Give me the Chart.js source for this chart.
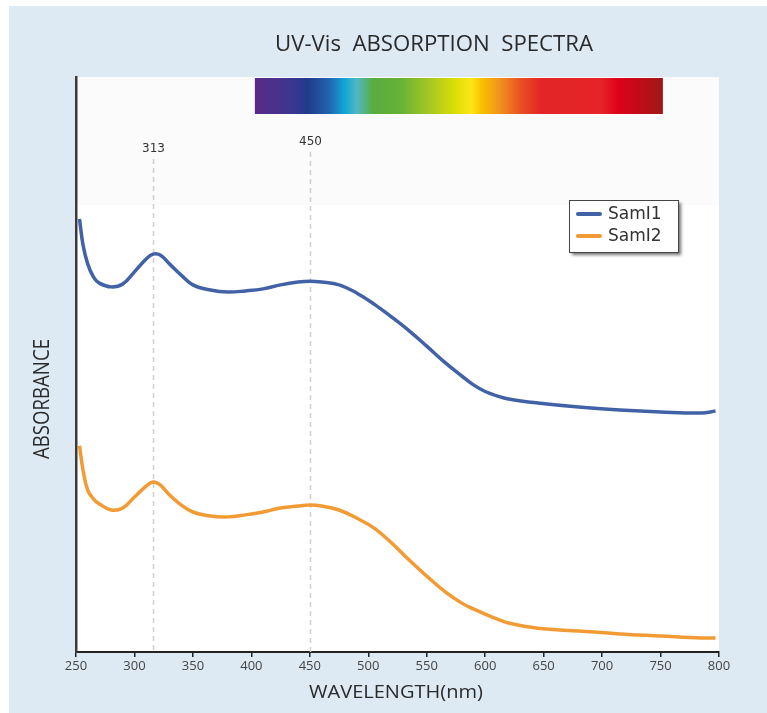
<!DOCTYPE html>
<html><head><meta charset="utf-8">
<script src="https://cdn.jsdelivr.net/npm/chart.js@4.4.1/dist/chart.umd.min.js"></script>
<style>
html,body{margin:0;padding:0;background:#fff;width:767px;height:713px;overflow:hidden;}
#frame{position:absolute;left:9px;top:6px;right:0;bottom:0;background:#ddeaf3;}
#wrap{position:absolute;left:0;top:0;width:767px;height:713px;}
</style></head><body>
<div id="frame"></div>
<div id="wrap"><canvas id="c" width="767" height="713"></canvas></div>
<script>
// ---- data ----
const wavelengths = [253,256,260,265,270,280,290,300,310,316,322,330,340,350,365,380,395,410,425,440,450,460,475,490,505,520,535,550,565,580,590,600,610,620,645,680,715,750,785,797];
const sample1 = [1.506,1.416,1.350,1.304,1.283,1.270,1.280,1.322,1.367,1.384,1.381,1.350,1.311,1.277,1.259,1.252,1.256,1.263,1.277,1.287,1.290,1.287,1.277,1.249,1.210,1.165,1.117,1.064,1.009,0.960,0.929,0.906,0.891,0.880,0.866,0.852,0.842,0.835,0.831,0.838];
const sample2 = [0.717,0.633,0.563,0.532,0.515,0.494,0.501,0.539,0.577,0.591,0.581,0.546,0.511,0.487,0.473,0.470,0.477,0.487,0.501,0.508,0.511,0.508,0.494,0.466,0.431,0.379,0.320,0.264,0.212,0.170,0.150,0.132,0.115,0.101,0.083,0.073,0.063,0.056,0.049,0.049];
const seriesNames = ['SamI1','SamI2'];
const xTicks = [250,300,350,400,450,500,550,600,650,700,750,800];
const markerWavelengths = [316,450];
const markerLabels = ['313','450'];
const markerTops = [1.715,1.739];
const spectrumRange = [403,752];
const titleText = 'UV-Vis  ABSORPTION  SPECTRA';
const xTitle = 'WAVELENGTH(nm)';
const yTitle = 'ABSORBANCE';

const colors = ['#4262a6','#f29b34'];
const FONT = '"Open Sans", "Noto Sans", sans-serif';

function fitText(ctx, text, x, y, targetW, font, color, rot){
  ctx.save();
  ctx.font = font; ctx.fillStyle = color;
  ctx.textAlign = 'center'; ctx.textBaseline = 'middle';
  const w = ctx.measureText(text).width;
  ctx.translate(x, y);
  if (rot) ctx.rotate(rot);
  ctx.scale(targetW / w, 1);
  ctx.fillText(text, 0, 0);
  ctx.restore();
}

const decor = {
  id: 'decor',
  beforeDraw(chart){
    const {ctx, chartArea:a} = chart;
    ctx.save();
    ctx.fillStyle = '#ffffff';
    ctx.fillRect(a.left, a.top, a.right - a.left, a.bottom - a.top);
    ctx.fillStyle = '#fbfbfb';
    ctx.fillRect(a.left, a.top, a.right - a.left, 128);
    ctx.restore();
  },
  beforeDatasetsDraw(chart){
    const {ctx, chartArea:a, scales:{x, y}} = chart;
    ctx.save();
    ctx.strokeStyle = '#cfcfcf'; ctx.lineWidth = 1.5; ctx.setLineDash([5,4]);
    markerWavelengths.forEach((w, i) => {
      const px = Math.round(x.getPixelForValue(w)) + 0.5;
      const top = y.getPixelForValue(markerTops[i]);
      ctx.beginPath(); ctx.moveTo(px, top); ctx.lineTo(px, a.bottom); ctx.stroke();
      ctx.save();
      ctx.setLineDash([]);
      ctx.font = '12px "DejaVu Sans", sans-serif'; ctx.fillStyle = '#333';
      ctx.textAlign = 'center'; ctx.textBaseline = 'middle';
      ctx.fillText(markerLabels[i], px, top - 10);
      ctx.restore();
    });
    ctx.restore();
  },
  afterDraw(chart){
    const {ctx, chartArea:a, scales:{x}} = chart;
    // spectrum bar
    const x0 = x.getPixelForValue(spectrumRange[0]);
    const x1 = x.getPixelForValue(spectrumRange[1]);
    const g = ctx.createLinearGradient(x0, 0, x1, 0);
    const stops = [[0,'#5a2a86'],[0.09,'#3c3690'],[0.13,'#1f3b8c'],[0.18,'#2462ae'],[0.22,'#10a6d6'],[0.25,'#50b8c6'],[0.29,'#58ac3e'],[0.36,'#68b236'],[0.43,'#a8c822'],[0.49,'#dade04'],[0.53,'#fde618'],[0.555,'#f9c200'],[0.6,'#f0921e'],[0.65,'#e85322'],[0.7,'#e42526'],[0.85,'#e42428'],[0.89,'#df0219'],[1,'#9e1818']];
    stops.forEach(s => g.addColorStop(s[0], s[1]));
    ctx.save();
    ctx.fillStyle = g;
    ctx.fillRect(x0, a.top + 1, x1 - x0, 36);
    ctx.restore();
    // titles
    fitText(ctx, titleText, 434, 45, 318, '21px ' + FONT, '#2a2a2a', 0);
    fitText(ctx, xTitle, 396, 693, 174, '19px ' + FONT, '#2a2a2a', 0);
    fitText(ctx, yTitle, 43, 399, 120, '22px ' + FONT, '#2a2a2a', -Math.PI/2);
    // legend
    const L = 569, T = 200, W = 109, H = 52;
    ctx.save();
    ctx.shadowColor = 'rgba(0,0,0,0.55)'; ctx.shadowOffsetX = 3; ctx.shadowOffsetY = 3; ctx.shadowBlur = 3;
    ctx.fillStyle = '#fff'; ctx.fillRect(L, T, W, H);
    ctx.restore();
    ctx.save();
    ctx.strokeStyle = '#444'; ctx.lineWidth = 1; ctx.strokeRect(L + 0.5, T + 0.5, W, H);
    chart.data.datasets.forEach((ds, i) => {
      const yy = T + 14 + i * 22;
      ctx.strokeStyle = ds.borderColor; ctx.lineWidth = 4; ctx.lineCap = 'round';
      ctx.beginPath(); ctx.moveTo(L + 9, yy); ctx.lineTo(L + 31, yy); ctx.stroke();
      ctx.font = '17px "DejaVu Sans", sans-serif'; ctx.fillStyle = '#333';
      ctx.textAlign = 'left'; ctx.textBaseline = 'middle';
      ctx.fillText(ds.label, L + 39, yy + 1);
    });
    ctx.restore();
  }
};

const toPts = arr => wavelengths.map((w, i) => ({x: w, y: arr[i]}));

new Chart(document.getElementById('c'), {
  type: 'line',
  data: {
    datasets: [
      {label: seriesNames[0], data: toPts(sample1), borderColor: colors[0], borderWidth: 3.5, pointRadius: 0, tension: 0.4, fill: false},
      {label: seriesNames[1], data: toPts(sample2), borderColor: colors[1], borderWidth: 3.5, pointRadius: 0, tension: 0.4, fill: false}
    ]
  },
  options: {
    responsive: false,
    animation: false,
    layout: {padding: {left: 0, top: 77, right: 48, bottom: 0}},
    plugins: {legend: {display: false}, title: {display: false}, tooltip: {enabled: false}},
    scales: {
      x: {
        type: 'linear', min: 250, max: 800,
        afterBuildTicks: s => { s.ticks = xTicks.map(v => ({value: v})); },
        afterFit: s => { s.height = 61; },
        grid: {drawOnChartArea: false, drawTicks: true, tickLength: 5, color: '#222', lineWidth: 1.5},
        border: {display: true, color: '#222', width: 2},
        ticks: {padding: 1, color: '#444', font: {family: FONT, size: 13}, maxRotation: 0}
      },
      y: {
        min: 0, max: 2,
        afterFit: s => { s.width = 76; },
        grid: {display: false, drawTicks: false},
        border: {display: true, color: '#3a3a3a', width: 2.5},
        ticks: {display: false}
      }
    }
  },
  plugins: [decor]
});
</script>
</body></html>
